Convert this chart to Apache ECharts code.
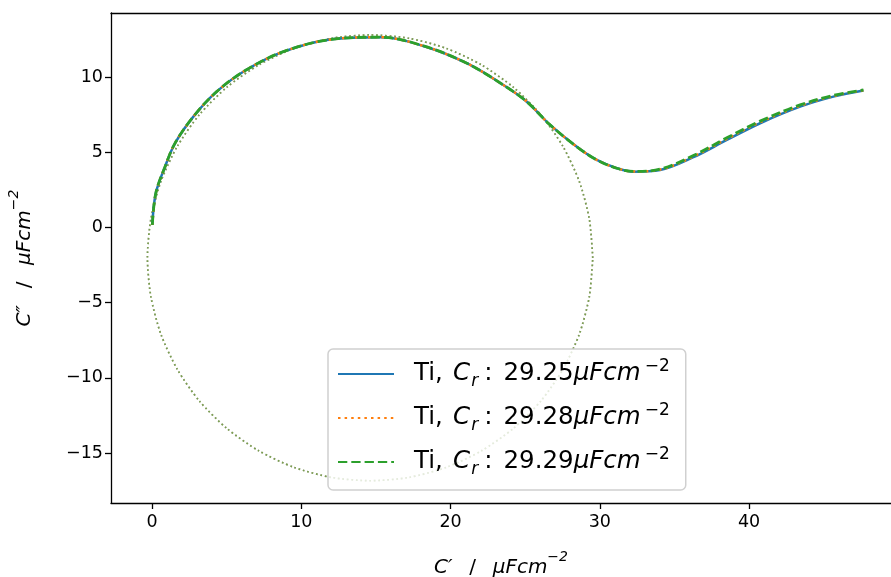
<!DOCTYPE html>
<html>
<head>
<meta charset="utf-8">
<script src="https://cdn.jsdelivr.net/npm/echarts@6/dist/echarts.min.js"></script>
<style>
html,body{margin:0;padding:0;background:#fff;}
#chart{width:891px;height:577px;}
</style>
</head>
<body>
<div id="chart"></div>
<script>
// ---- data ----
const crValues = ['29.25', '29.28', '29.29'];
const seriesColors = ['#1f77b4', '#ff7f0e', '#2ca02c'];

// measured curve C' (x) and C'' (y), Ti
const blueX = [0.02, 0.25, 0.87, 1.54, 2.77, 4.33, 6.30, 8.80, 12.04, 15.28, 18.18, 21.09, 23.54, 25.11, 26.67, 28.46, 29.80, 31.14, 32.25, 34.04, 36.27, 38.51, 40.74, 43.42, 45.65, 47.66];
const blueY = [0.17, 2.27, 4.04, 5.60, 7.37, 9.03, 10.47, 11.69, 12.51, 12.65, 12.07, 10.92, 9.47, 8.36, 6.82, 5.37, 4.49, 3.94, 3.71, 3.82, 4.67, 5.82, 6.93, 8.03, 8.70, 9.10];
const orangeX = [0.02, 0.25, 0.87, 1.54, 2.77, 4.33, 6.30, 8.80, 12.04, 15.28, 18.18, 21.09, 23.54, 25.11, 26.67, 28.46, 29.80, 31.14, 32.25, 34.04, 36.27, 38.51, 40.74, 43.42, 45.65, 47.66];
const orangeY = [0.17, 2.27, 4.04, 5.60, 7.37, 9.03, 10.47, 11.69, 12.51, 12.65, 12.07, 10.92, 9.47, 8.36, 6.82, 5.37, 4.49, 3.94, 3.72, 3.85, 4.72, 5.89, 7.00, 8.09, 8.74, 9.12];
const greenX = [0.02, 0.25, 0.87, 1.54, 2.77, 4.33, 6.30, 8.80, 12.04, 15.28, 18.18, 21.09, 23.54, 25.11, 26.67, 28.46, 29.80, 31.14, 32.25, 34.04, 36.27, 38.51, 40.74, 43.42, 45.65, 47.66];
const greenY = [0.17, 2.27, 4.04, 5.60, 7.37, 9.03, 10.47, 11.69, 12.51, 12.65, 12.07, 10.92, 9.47, 8.36, 6.82, 5.37, 4.49, 3.94, 3.73, 3.88, 4.78, 5.96, 7.07, 8.15, 8.78, 9.14];

// fitted circle (dotted)
const circX = [29.53, 29.30, 28.63, 27.53, 26.04, 24.20, 22.07, 19.71, 17.20, 14.61, 12.02, 9.51, 7.15, 5.02, 3.18, 1.69, 0.59, -0.08, -0.31, -0.08, 0.59, 1.69, 3.18, 5.02, 7.15, 9.51, 12.02, 14.61, 17.20, 19.71, 22.07, 24.20, 26.04, 27.53, 28.63, 29.30, 29.53];
const circY = [-2.02, 0.55, 3.05, 5.39, 7.51, 9.33, 10.81, 11.91, 12.58, 12.80, 12.58, 11.91, 10.81, 9.33, 7.51, 5.39, 3.05, 0.55, -2.02, -4.59, -7.09, -9.43, -11.55, -13.37, -14.85, -15.95, -16.62, -16.84, -16.62, -15.95, -14.85, -13.37, -11.55, -9.43, -7.09, -4.59, -2.02];

const xTicks = [0, 10, 20, 30, 40];
const yTicks = [-15, -10, -5, 0, 5, 10];

// ---- build ----
const zip = (a, b) => a.map((v, i) => [v, b[i]]);
const curves = [zip(blueX, blueY), zip(orangeX, orangeY), zip(greenX, greenY)];
const circle = zip(circX, circY);
const names = crValues.map(v => 'Ti, Cr: ' + v);
const lineTypes = ['solid', [2.5, 4.1], [9.3, 4]];
const lineWidths = [2.5, 2.5, 2.8];

const series = [];
seriesColors.forEach((c, i) => {
  series.push({
    type: 'line', data: circle, showSymbol: false, symbol: 'none', smooth: 0.25,
    silent: true, z: 1,
    lineStyle: { color: c, width: 1.7, type: [1.7, 2.8], opacity: 0.5 }
  });
});
curves.forEach((d, i) => {
  series.push({
    name: names[i], type: 'line', data: d, showSymbol: false, symbol: 'none', smooth: 0.35,
    z: 3 + i, color: seriesColors[i],
    lineStyle: { color: seriesColors[i], width: lineWidths[i], type: lineTypes[i] }
  });
});

const fontFam = 'DejaVu Sans';
const nameRich = {
  i: { fontStyle: 'italic', fontSize: 20, fontFamily: fontFam, lineHeight: 28, verticalAlign: 'bottom' },
  n: { fontSize: 20, fontFamily: fontFam, lineHeight: 28, verticalAlign: 'bottom' },
  sup: { fontStyle: 'italic', fontSize: 14, fontFamily: fontFam, verticalAlign: 'top' }
};
const axisLineStyle = { color: '#000', width: 1.3 };
const chart = echarts.init(document.getElementById('chart'), null, { renderer: 'canvas' });
chart.setOption({
  animation: false,
  backgroundColor: '#fff',
  grid: { left: 111, top: 13, right: 0, bottom: 74, containLabel: false, outerBoundsMode: 'none' },
  xAxis: [{
    type: 'value', min: -2.75, max: 49.51,
    name: "{i|C′}{n|  \u2009/  \u2009}{i|μFcm}{sup|−2}", nameLocation: 'middle', nameGap: 47,
    nameTextStyle: { fontFamily: fontFam, fontSize: 20, color: '#000', rich: nameRich },
    axisLine: { show: true, onZero: false, lineStyle: axisLineStyle },
    axisTick: { show: true, length: 6, customValues: xTicks, lineStyle: axisLineStyle },
    axisLabel: { customValues: xTicks, color: '#000', fontSize: 17.5, fontFamily: fontFam, margin: 10 },
    splitLine: { show: false }
  }, {
    type: 'value', position: 'top', min: -2.75, max: 49.51,
    axisLine: { show: true, onZero: false, lineStyle: axisLineStyle },
    axisTick: { show: false }, axisLabel: { show: false }, splitLine: { show: false }
  }],
  yAxis: {
    type: 'value', min: -18.32, max: 14.26,
    name: "{i|C″}{n|  \u2009/  \u2009}{i|μFcm}{sup|−2}", nameLocation: 'middle', nameGap: 76, nameRotate: 90,
    nameTextStyle: { fontFamily: fontFam, fontSize: 20, color: '#000', rich: nameRich },
    axisLine: { show: true, onZero: false, lineStyle: axisLineStyle },
    axisTick: { show: true, length: 6, customValues: yTicks, lineStyle: axisLineStyle },
    axisLabel: { customValues: yTicks, color: '#000', fontSize: 17.5, fontFamily: fontFam, margin: 8,
      formatter: v => (v < 0 ? '−' + Math.abs(v) : String(v)) },
    splitLine: { show: false }
  },
  legend: {
    data: names, orient: 'vertical', left: 328, top: 349,
    padding: [9, 16, 12, 9], itemGap: 12, itemWidth: 56, itemHeight: 32,
    backgroundColor: 'rgba(255,255,255,0.8)', borderColor: '#d0d0d0', borderWidth: 1.5, borderRadius: 5,
    itemStyle: { opacity: 0 },
    formatter: name => {
      const v = name.split(': ')[1];
      return '{n|Ti, \u200a}{i|C}{sub|r}{n|\u2005:\u2005\u2009' + v + '}{i|μFcm}{sup|−2}';
    },
    textStyle: { fontFamily: fontFam, fontSize: 24.5, color: '#000', padding: [0, 0, 0, 15],
      rich: {
        n: { fontFamily: fontFam, fontSize: 24.5, lineHeight: 32, verticalAlign: 'middle' },
        i: { fontFamily: fontFam, fontSize: 24.5, fontStyle: 'italic', lineHeight: 32, verticalAlign: 'middle' },
        sub: { fontFamily: fontFam, fontSize: 17, fontStyle: 'italic', verticalAlign: 'bottom', padding: [0, 0, 0, 1] },
        sup: { fontFamily: fontFam, fontSize: 17, verticalAlign: 'top', padding: [0, 0, 0, 4] }
      } }
  },
  series: series
});
</script>
</body>
</html>
